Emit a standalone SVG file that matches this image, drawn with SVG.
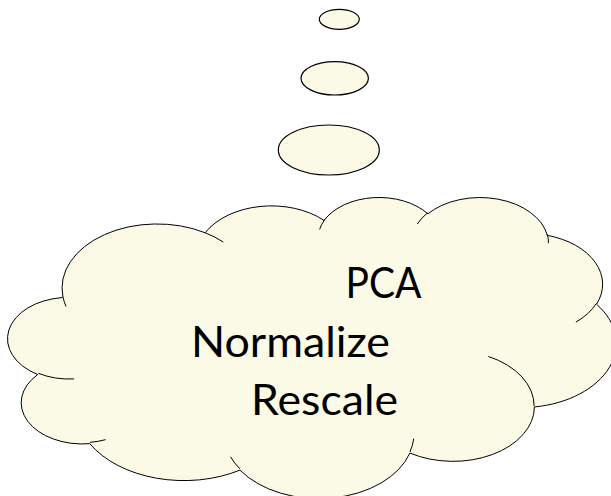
<svg xmlns="http://www.w3.org/2000/svg" width="611" height="496" viewBox="0 0 611 496">
  <style>
    .bubble { fill: #FAFAE6; stroke: #000; stroke-width: 1; }
    .trail { fill: #FAFAE6; stroke: #000; stroke-width: 1.2; }
    .crease { fill: none; stroke: #000; stroke-width: 1; }
    .label { font-family: Lato, "Liberation Sans", sans-serif; font-size: 42px; fill: #000; }
  </style>
  <rect width="611" height="496" fill="#FFFFFF"/>

  <!-- small thought bubbles rising from the cloud -->
  <g id="bubble-small">
    <ellipse class="trail" cx="339.3" cy="19.3" rx="20" ry="10"/>
  </g>
  <g id="bubble-medium">
    <ellipse class="trail" cx="334.7" cy="78.3" rx="33.7" ry="16.7"/>
  </g>
  <g id="bubble-large">
    <ellipse class="trail" cx="328.8" cy="150" rx="50.5" ry="25"/>
  </g>

  <!-- cloud outline, drawn in a 43200-unit box and scaled into place -->
  <g id="cloud">
    <g transform="translate(8 196.5) scale(0.014074 0.006968)">
      <path class="bubble" vector-effect="non-scaling-stroke"
            d="M 3900 14370
               A 6753 9190 0 0 1 14006 5203
               A 5333 7267 0 0 1 22457 3433
               A 4365 5945 0 0 1 29834 2481
               A 4857 6595 0 0 1 38319 5577
               A 5333 7273 0 0 1 41819 15460
               A 6775 9220 0 0 1 37405 30204
               A 5785 7867 0 0 1 28557 36814
               A 6752 9215 0 0 1 16481 39265
               A 7720 10543 0 0 1 5806 35471
               A 4360 5918 0 0 1 2114 25549
               A 4345 5945 0 0 1 3864 14505 Z"/>
      <!-- inner creases where the puffs overlap -->
      <path class="crease" vector-effect="non-scaling-stroke"
            d="M 4693 26177 A 4345 5945 0 0 1 2160 25380
               M 6928 34899 A 4360 5918 0 0 1 5820 35281
               M 16478 39090 A 6752 9215 0 0 1 15810 37350
               M 28827 34751 A 6752 9215 0 0 1 28560 36660
               M 34129 22954 A 5785 7867 0 0 1 37380 30090
               M 41798 15354 A 5333 7273 0 0 1 40350 18030
               M 38324 5426 A 4857 6595 0 0 1 38401 6690
               M 29078 3952 A 4857 6595 0 0 1 29820 2341
               M 22141 4720 A 4365 5945 0 0 1 22500 3331
               M 14000 5192 A 6753 9190 0 0 1 15299 6540
               M 4127 15789 A 6753 9190 0 0 1 3900 14370"/>
    </g>
    <text class="label" x="345.5" y="298.3" textLength="76" lengthAdjust="spacingAndGlyphs">PCA</text>
    <text class="label" x="191" y="356.7" textLength="199" lengthAdjust="spacingAndGlyphs">Normalize</text>
    <text class="label" x="251" y="415" textLength="147" lengthAdjust="spacingAndGlyphs">Rescale</text>
  </g>
</svg>
